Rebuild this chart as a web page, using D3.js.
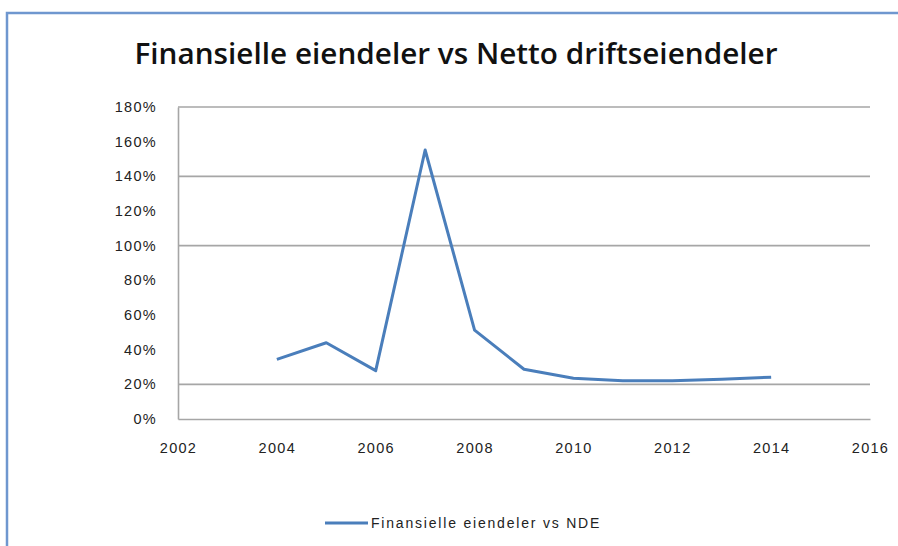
<!DOCTYPE html>
<html>
<head>
<meta charset="utf-8">
<script src="https://cdn.jsdelivr.net/npm/d3@7"></script>
<style>
  html, body { margin: 0; padding: 0; background: #fff; }
  svg { display: block; }
</style>
</head>
<body>
<svg id="chart" width="898" height="546"></svg>
<script>
// Financial assets relative to net operating assets, per year
const years  = [2004, 2005, 2006, 2007, 2008, 2009, 2010, 2011, 2012, 2013, 2014];
const ratios = [0.344, 0.440, 0.279, 1.552, 0.513, 0.287, 0.235, 0.221, 0.221, 0.229, 0.241];

const xTicks = [2002, 2004, 2006, 2008, 2010, 2012, 2014, 2016];
const yTicks = [0, 0.2, 0.4, 0.6, 0.8, 1.0, 1.2, 1.4, 1.6, 1.8];
const gridValues = [0.2, 1.0, 1.4, 1.8];

const titleText  = "Finansielle eiendeler vs Netto driftseiendeler";
const seriesName = "Finansielle eiendeler vs NDE";

const svg = d3.select("#chart");
const plot = { left: 178, right: 870, top: 107, bottom: 419 };

// Outer chart frame (top and left edges visible)
svg.append("path")
  .attr("d", "M7,546 L7,13 L898,13")
  .attr("fill", "none")
  .attr("stroke", "#6f97cf")
  .attr("stroke-width", 2.5);

// Title
svg.append("text")
  .attr("x", 456).attr("y", 64)
  .attr("text-anchor", "middle")
  .attr("font-family", "'Open Sans', sans-serif")
  .attr("font-weight", 600)
  .attr("font-size", 29)
  .attr("textLength", 643)
  .attr("lengthAdjust", "spacingAndGlyphs")
  .attr("fill", "#111")
  .text(titleText);

const x = d3.scaleLinear().domain([2002, 2016]).range([plot.left, plot.right]);
const y = d3.scaleLinear().domain([0, 1.8]).range([plot.bottom, plot.top]);

// Horizontal gridlines
svg.append("g")
  .selectAll("line")
  .data(gridValues)
  .join("line")
  .attr("x1", plot.left).attr("x2", plot.right)
  .attr("y1", d => y(d)).attr("y2", d => y(d))
  .attr("stroke", "#a6a6a6")
  .attr("stroke-width", 1.6);

// Y axis
const yAxis = svg.append("g")
  .attr("transform", `translate(${plot.left},0)`)
  .call(d3.axisLeft(y).tickValues(yTicks).tickSize(0).tickPadding(21)
    .tickFormat(d => Math.round(d * 100) + "%"));
yAxis.select(".domain").attr("stroke", "#a6a6a6").attr("stroke-width", 1.6);
yAxis.selectAll("text")
  .attr("font-family", "'Liberation Sans', sans-serif")
  .attr("font-size", 14.5)
  .attr("letter-spacing", 1.3)
  .attr("fill", "#222");

// X axis
const xAxis = svg.append("g")
  .attr("transform", `translate(0,${plot.bottom})`)
  .call(d3.axisBottom(x).tickValues(xTicks).tickSize(0).tickPadding(24)
    .tickFormat(d3.format("d")));
xAxis.select(".domain").attr("stroke", "#a6a6a6").attr("stroke-width", 1.6);
xAxis.selectAll("text")
  .attr("font-family", "'Liberation Sans', sans-serif")
  .attr("font-size", 14.5)
  .attr("letter-spacing", 1.3)
  .attr("fill", "#222");

// Series line
const line = d3.line()
  .x((d, i) => x(years[i]))
  .y(d => y(d));

svg.append("path")
  .datum(ratios)
  .attr("d", line)
  .attr("fill", "none")
  .attr("stroke", "#4a7ebb")
  .attr("stroke-width", 3)
  .attr("stroke-linejoin", "round");

// Legend
const legend = svg.append("g").attr("transform", "translate(325,523)");
legend.append("line")
  .attr("x1", 0).attr("x2", 43)
  .attr("stroke", "#4a7ebb").attr("stroke-width", 3);
legend.append("text")
  .attr("x", 46).attr("y", 5)
  .attr("font-family", "'Liberation Sans', sans-serif")
  .attr("font-size", 14)
  .attr("letter-spacing", 1.8)
  .attr("fill", "#222")
  .text(seriesName);
</script>
</body>
</html>
